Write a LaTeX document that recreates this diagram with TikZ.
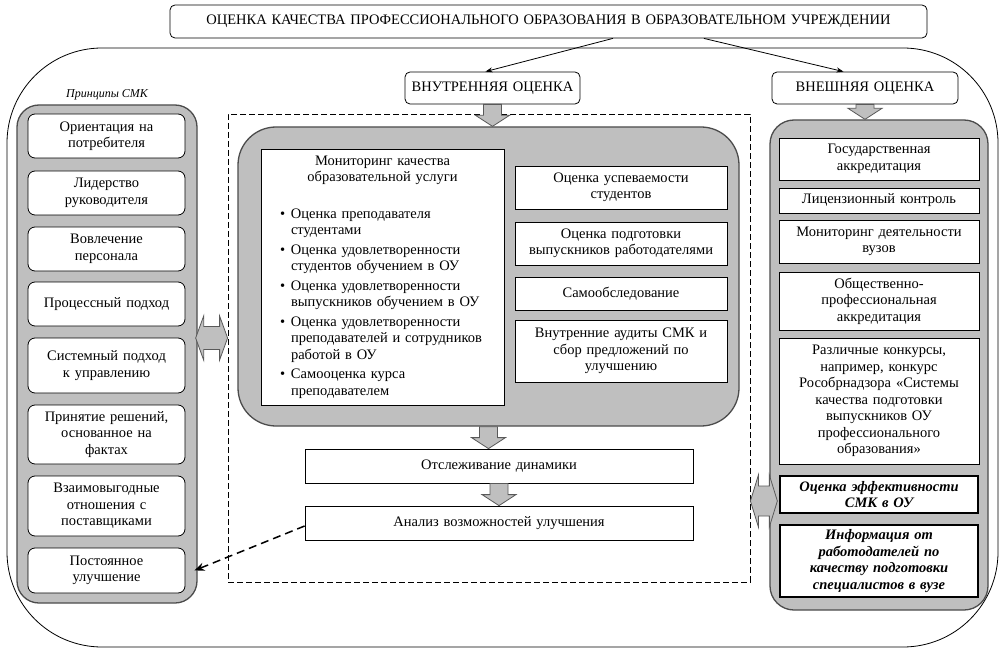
\documentclass[tikz,border=0pt]{standalone}
\usepackage{fontspec}
\setmainfont{Liberation Serif}
\usetikzlibrary{calc,arrows.meta}
\newcommand\fs{\fontsize{14.5}{16.5}\selectfont}
\newcommand\BoxAt[7]{%
  \pgfmathsetmacro\bw{#5-#3}\pgfmathsetmacro\bh{#6-#4}\pgfmathsetmacro\btw{#5-#3-6}%
  \pgfmathsetmacro\bx{(#3+#5)/2}\pgfmathsetmacro\by{(#4+#6)/2}%
  \node[#1, minimum width=\bw pt, minimum height=\bh pt, text width=\btw pt] (#2) at (\bx,\by) {#7};}
\newcommand\BlockDown[2]{%
  \draw[blockarrow] let \p1=(#1), \p2=(#2) in
    (\x1-9pt,\y1) -- (\x1+9pt,\y1) -- (\x1+9pt,\y2+11pt) -- (\x1+17pt,\y2+11pt) -- (\x1,\y2)
    -- (\x1-17pt,\y2+11pt) -- (\x1-9pt,\y2+11pt) -- cycle;}
\newcommand\BlockBoth[4]{% left, right, head half, shaft half
  \draw[blockarrow] let \p1=(#1), \p2=(#2) in
    (\x1,\y1) -- (\x1+8pt,\y1+#3pt) -- (\x1+8pt,\y1+#4pt) -- (\x2-8pt,\y1+#4pt) -- (\x2-8pt,\y1+#3pt)
    -- (\x2,\y1) -- (\x2-8pt,\y1-#3pt) -- (\x2-8pt,\y1-#4pt) -- (\x1+8pt,\y1-#4pt) -- (\x1+8pt,\y1-#3pt) -- cycle;}
\newcommand\Bul{\hspace*{16pt}\makebox[11pt][l]{•}}
\newcommand\Ind{\hspace*{27pt}}
\begin{document}
\begin{tikzpicture}[x=1pt,y=-1pt,
  outerbox/.style={draw=black, line width=0.8pt, rounded corners=95pt, inner sep=0pt},
  panel/.style={draw=black!70, line width=1.3pt, fill=black!25, inner sep=0pt},
  rbox/.style={draw=black, line width=0.8pt, fill=white, rounded corners=7pt, align=center, inner sep=0pt, font=\fs},
  sbox/.style={draw=black, line width=0.8pt, fill=white, align=center, inner sep=0pt, font=\fs},
  bbox/.style={sbox, line width=2pt, font=\fs\bfseries\itshape},
  headbox/.style={draw=black, line width=0.8pt, fill=white, rounded corners=5pt, align=center, inner sep=0pt, font=\fs},
  blockarrow/.style={draw=black!65, fill=black!25, line width=0.8pt},
  thinarrow/.style={line width=0.8pt, -{Stealth[length=7pt,width=5pt]}},
  dasharrow/.style={line width=1.5pt, dash pattern=on 8pt off 5pt, -{Stealth[length=10pt,width=8pt]}},
  dashframe/.style={draw=black, line width=0.8pt, dash pattern=on 6pt off 3pt, inner sep=0pt}]
\useasboundingbox (0,0) rectangle (1003,652);
\fill[white] (0,0) rectangle (1003,652);

\BoxAt{outerbox}{outer}{7}{48}{998}{647}{}
\BoxAt{headbox}{title}{170}{5}{927}{38}{ОЦЕНКА КАЧЕСТВА ПРОФЕССИОНАЛЬНОГО ОБРАЗОВАНИЯ В ОБРАЗОВАТЕЛЬНОМ УЧРЕЖДЕНИИ}
\BoxAt{headbox}{inner}{405}{72}{580}{104}{ВНУТРЕННЯЯ ОЦЕНКА}
\BoxAt{headbox}{outerev}{772}{72}{958}{104}{ВНЕШНЯЯ ОЦЕНКА}
\draw[thinarrow] ($(title.south west)!0.585!(title.south east)$) -- ($(inner.north west)!0.46!(inner.north east)$);
\draw[thinarrow] ($(title.south west)!0.705!(title.south east)$) -- ($(outerev.north west)!0.385!(outerev.north east)$);

% left column
\node[font=\fontsize{12}{14}\selectfont\itshape] (princ) at (107,95) {Принципы СМК};
\BoxAt{panel, rounded corners=22pt}{lpanel}{17}{105}{197}{603}{}
\BoxAt{rbox}{l1}{28}{114}{185}{158}{Ориентация на\\потребителя}
\BoxAt{rbox}{l2}{28}{171}{185}{215}{Лидерство\\руководителя}
\BoxAt{rbox}{l3}{28}{227}{185}{271}{Вовлечение\\персонала}
\BoxAt{rbox}{l4}{28}{282}{185}{326}{Процессный подход}
\BoxAt{rbox}{l5}{28}{338}{185}{393}{Системный подход\\к управлению}
\BoxAt{rbox}{l6}{28}{405}{185}{464}{Принятие решений,\\основанное на\\фактах}
\BoxAt{rbox}{l7}{28}{476}{185}{536}{Взаимовыгодные\\отношения с\\поставщиками}
\BoxAt{rbox}{l8}{28}{548}{185}{593}{Постоянное\\улучшение}

% middle
\BoxAt{dashframe}{frame}{228}{114}{750}{582}{}
\BoxAt{panel, rounded corners=38pt}{cpanel}{238}{127}{739}{426}{}
\BlockDown{inner.south}{cpanel.north}
\BoxAt{sbox, align=left}{mon}{261}{149}{504}{405}{%
\makebox[\linewidth][c]{Мониторинг качества}\\
\makebox[\linewidth][c]{образовательной услуги}\\[20pt]
\Bul Оценка преподавателя\\
\Ind студентами\\[3pt]
\Bul Оценка удовлетворенности\\
\Ind студентов обучением в ОУ\\[3pt]
\Bul Оценка удовлетворенности\\
\Ind выпускников обучением в ОУ\\[3pt]
\Bul Оценка удовлетворенности\\
\Ind преподавателей и сотрудников\\
\Ind работой в ОУ\\[3pt]
\Bul Самооценка курса\\
\Ind преподавателем}
\BoxAt{sbox}{m1}{515}{166}{727}{209}{Оценка успеваемости\\студентов}
\BoxAt{sbox}{m2}{515}{222}{727}{265}{Оценка подготовки\\выпускников работодателями}
\BoxAt{sbox}{m3}{515}{277}{727}{310}{Самообследование}
\BoxAt{sbox}{m4}{515}{320}{727}{382}{Внутренние аудиты СМК и\\сбор предложений по\\улучшению}
\BoxAt{sbox}{track}{305}{449}{693}{483}{Отслеживание динамики}
\BoxAt{sbox}{anal}{305}{506}{693}{540}{Анализ возможностей улучшения}
\BlockDown{cpanel.south}{track.north}
\BlockDown{track.south}{anal.north}

% right column
\BoxAt{panel, rounded corners=24pt}{rpanel}{770}{120}{988}{610}{}
\BlockDown{outerev.south}{rpanel.north}
\BoxAt{sbox}{r1}{779}{138}{979}{180}{Государственная\\аккредитация}
\BoxAt{sbox}{r2}{779}{188}{979}{213}{Лицензионный контроль}
\BoxAt{sbox}{r3}{779}{220}{979}{263}{Мониторинг деятельности\\вузов}
\BoxAt{sbox}{r4}{779}{272}{979}{330}{Общественно-\\профессиональная\\аккредитация}
\BoxAt{sbox}{r5}{779}{338}{979}{464}{Различные конкурсы,\\например, конкурс\\Рособрнадзора «Системы\\качества подготовки\\выпускников ОУ\\профессионального\\образования»}
\BoxAt{bbox}{r6}{780}{476}{978}{513}{Оценка эффективности\\СМК в ОУ}
\BoxAt{bbox}{r7}{780}{525}{978}{597}{Информация от\\работодателей по\\качеству подготовки\\специалистов в вузе}

% side arrows
\coordinate (la) at ([xshift=-2pt]lpanel.east |- 0,338);
\coordinate (lb) at (frame.west |- 0,338);
\BlockBoth{la}{lb}{22}{11.5}
\coordinate (ra) at (frame.east |- 0,501);
\coordinate (rb) at ([xshift=8pt]rpanel.west |- 0,501);
\BlockBoth{ra}{rb}{26}{15}
\draw[dasharrow] ([yshift=-3pt]anal.west) -- ([xshift=9pt]l8.east);
\end{tikzpicture}
\end{document}
